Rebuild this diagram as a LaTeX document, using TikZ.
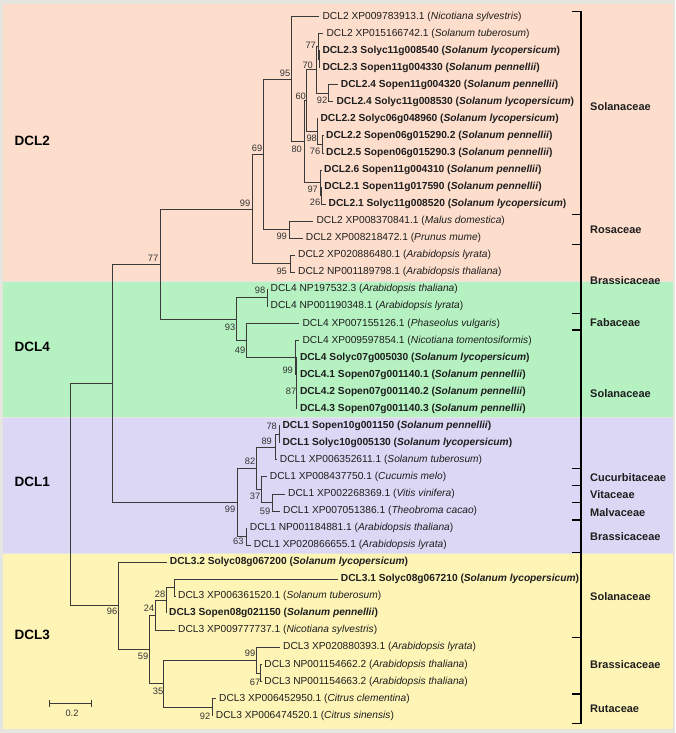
\documentclass[tikz,border=0pt]{standalone}
\usepackage{fontspec}
\setmainfont{Liberation Sans}
\definecolor{bgpeach}{HTML}{FDDDCC}
\definecolor{bggreen}{HTML}{B5F1C1}
\definecolor{bglav}{HTML}{DBD7F5}
\definecolor{bgyel}{HTML}{FEF4B6}
\definecolor{frame}{HTML}{E6E6E0}
\definecolor{treegray}{HTML}{3A3A3A}
\definecolor{txt}{HTML}{1E1E1E}
\definecolor{bsgray}{HTML}{333333}
\tikzset{
  leaf/.style={anchor=west, inner xsep=3pt, inner ysep=1pt, text=txt, font=\fontsize{10.2}{12}\selectfont},
  leafb/.style={leaf, font=\fontsize{10.2}{12}\selectfont\bfseries},
  bs/.style={inner sep=0pt, text=bsgray, font=\fontsize{9.3}{10}\selectfont},
  br/.style={draw=treegray, line width=0.8pt},
  fam/.style={anchor=west, inner sep=0pt, text=txt, font=\fontsize{11}{13}\selectfont\bfseries},
  clade/.style={anchor=west, inner sep=0pt, text=black, font=\fontsize{13.5}{15}\selectfont\bfseries},
  band/.style={draw=frame, line width=0.6pt}
}
\begin{document}
\begin{tikzpicture}[x=1pt,y=-1pt]
\useasboundingbox (0,0) rectangle (675,733);
% background
\fill[frame] (0,0) rectangle (675,733);
\filldraw[band, fill=bgpeach] (2,3) rectangle (673,281);
\filldraw[band, fill=bggreen] (2,281) rectangle (673,417.5);
\filldraw[band, fill=bglav] (2,417.5) rectangle (673,553);
\filldraw[band, fill=bgyel] (2,553) rectangle (673,729);

% clade labels
\node[clade] (cDCL2) at (14.5,140.7) {DCL2};
\node[clade] (cDCL4) at (14.5,346.7) {DCL4};
\node[clade] (cDCL1) at (14.5,481.7) {DCL1};
\node[clade] (cDCL3) at (14.5,635) {DCL3};

% leaves
\node[leaf]  (L1)  at (319.4,16.5)   {DCL2 XP009783913.1 (\textit{Nicotiana sylvestris})};
\node[leaf]  (L2)  at (323.4,33.55)  {DCL2 XP015166742.1 (\textit{Solanum tuberosum})};
\node[leafb] (L3)  at (319.3,50.6)   {DCL2.3 Solyc11g008540 (\textit{Solanum lycopersicum})};
\node[leafb] (L4)  at (319.3,67.65)  {DCL2.3 Sopen11g004330 (\textit{Solanum pennellii})};
\node[leafb] (L5)  at (337.7,84.7)   {DCL2.4 Sopen11g004320 (\textit{Solanum pennellii})};
\node[leafb] (L6)  at (333.4,101.75) {DCL2.4 Solyc11g008530 (\textit{Solanum lycopersicum})};
\node[leafb] (L7)  at (317.4,118.8)  {DCL2.2 Solyc06g048960 (\textit{Solanum lycopersicum})};
\node[leafb] (L8)  at (323,135.85)   {DCL2.2 Sopen06g015290.2 (\textit{Solanum pennellii})};
\node[leafb] (L9)  at (323,152.9)    {DCL2.5 Sopen06g015290.3 (\textit{Solanum pennellii})};
\node[leafb] (L10) at (321,169.95)   {DCL2.6 Sopen11g004310 (\textit{Solanum pennellii})};
\node[leafb] (L11) at (321.2,187)    {DCL2.1 Sopen11g017590 (\textit{Solanum pennellii})};
\node[leafb] (L12) at (325.5,204.05) {DCL2.1 Solyc11g008520 (\textit{Solanum lycopersicum})};
\node[leaf]  (L13) at (313.4,221.1)  {DCL2 XP008370841.1 (\textit{Malus domestica})};
\node[leaf]  (L14) at (302.7,238.15) {DCL2 XP008218472.1 (\textit{Prunus mume})};
\node[leaf]  (L15) at (295,255.2)    {DCL2 XP020886480.1 (\textit{Arabidopsis lyrata})};
\node[leaf]  (L16) at (295,272.25)   {DCL2 NP001189798.1 (\textit{Arabidopsis thaliana})};
\node[leaf]  (L17) at (267.5,289.3)  {DCL4 NP197532.3 (\textit{Arabidopsis thaliana})};
\node[leaf]  (L18) at (267.5,306.35) {DCL4 NP001190348.1 (\textit{Arabidopsis lyrata})};
\node[leaf]  (L19) at (299.4,323.4)  {DCL4 XP007155126.1 (\textit{Phaseolus vulgaris})};
\node[leaf]  (L20) at (299.4,340.45) {DCL4 XP009597854.1 (\textit{Nicotiana tomentosiformis})};
\node[leafb] (L21) at (296.8,357.5)  {DCL4 Solyc07g005030 (\textit{Solanum lycopersicum})};
\node[leafb] (L22) at (296.8,374.55) {DCL4.1 Sopen07g001140.1 (\textit{Solanum pennellii})};
\node[leafb] (L23) at (296.8,391.6)  {DCL4.2 Sopen07g001140.2 (\textit{Solanum pennellii})};
\node[leafb] (L24) at (296.8,408.65) {DCL4.3 Sopen07g001140.3 (\textit{Solanum pennellii})};
\node[leafb] (L25) at (279.4,425.7)  {DCL1 Sopen10g001150 (\textit{Solanum pennellii})};
\node[leafb] (L26) at (279.4,442.75) {DCL1 Solyc10g005130 (\textit{Solanum lycopersicum})};
\node[leaf]  (L27) at (276.7,459.8)  {DCL1 XP006352611.1 (\textit{Solanum tuberosum})};
\node[leaf]  (L28) at (266.7,476.85) {DCL1 XP008437750.1 (\textit{Cucumis melo})};
\node[leaf]  (L29) at (285,493.9)    {DCL1 XP002268369.1 (\textit{Vitis vinifera})};
\node[leaf]  (L30) at (280,510.95)   {DCL1 XP007051386.1 (\textit{Theobroma cacao})};
\node[leaf]  (L31) at (246.7,528)    {DCL1 NP001184881.1 (\textit{Arabidopsis thaliana})};
\node[leaf]  (L32) at (250.7,545.05) {DCL1 XP020866655.1 (\textit{Arabidopsis lyrata})};
\node[leafb] (L33) at (166.7,562.1)  {DCL3.2 Solyc08g067200 (\textit{Solanum lycopersicum})};
\node[leafb] (L34) at (337.7,579.15) {DCL3.1 Solyc08g067210 (\textit{Solanum lycopersicum})};
\node[leaf]  (L35) at (175,596.2)    {DCL3 XP006361520.1 (\textit{Solanum tuberosum})};
\node[leafb] (L36) at (166,613.25)   {DCL3 Sopen08g021150 (\textit{Solanum pennellii})};
\node[leaf]  (L37) at (175,630.3)    {DCL3 XP009777737.1 (\textit{Nicotiana sylvestris})};
\node[leaf]  (L38) at (280,647.35)   {DCL3 XP020880393.1 (\textit{Arabidopsis lyrata})};
\node[leaf]  (L39) at (261.2,664.4)  {DCL3 NP001154662.2 (\textit{Arabidopsis thaliana})};
\node[leaf]  (L40) at (261.2,681.45) {DCL3 NP001154663.2 (\textit{Arabidopsis thaliana})};
\node[leaf]  (L41) at (216,698.5)    {DCL3 XP006452950.1 (\textit{Citrus clementina})};
\node[leaf]  (L42) at (212.7,715.55) {DCL3 XP006474520.1 (\textit{Citrus sinensis})};

% internal nodes
\coordinate (n34)   at (319,59.1);
\coordinate (n77)   at (318.3,46.3);
\coordinate (n92)   at (328.3,93.2);
\coordinate (n70)   at (316,69.8);
\coordinate (n76)   at (322.7,144.4);
\coordinate (n98a)  at (317,131.6);
\coordinate (n60)   at (306,100.7);
\coordinate (n26)   at (321.2,195.5);
\coordinate (n97)   at (320.5,182.7);
\coordinate (n80)   at (304,141.7);
\coordinate (n95a)  at (291,79.1);
\coordinate (n99r)  at (289,229.6);
\coordinate (n69)   at (263.3,154.4);
\coordinate (n95b)  at (290,263.7);
\coordinate (n99a)  at (252,209.1);
\coordinate (n98b)  at (267.3,297.8);
\coordinate (n87)   at (296.8,391.6);
\coordinate (nB)    at (296.2,374.6);
\coordinate (nA)    at (295.5,357.5);
\coordinate (n49)   at (246.7,340.5);
\coordinate (n93)   at (236.7,319.2);
\coordinate (n77b)  at (160,264.2);
\coordinate (n78)   at (279.3,434.2);
\coordinate (n89)   at (275,447);
\coordinate (n59a)  at (272.7,502.4);
\coordinate (n37)   at (261.7,489.6);
\coordinate (n82)   at (256.5,468.3);
\coordinate (n63)   at (246,536.5);
\coordinate (n99d)  at (237.3,502.4);
\coordinate (nX)    at (112,383.3);
\coordinate (nC)    at (174.7,587.7);
\coordinate (n28)   at (166,600.5);
\coordinate (n24)   at (155,615.4);
\coordinate (n67)   at (260.7,672.9);
\coordinate (n99c)  at (256.7,660.1);
\coordinate (n92b)  at (212,707);
\coordinate (n35)   at (163.6,683.6);
\coordinate (n59b)  at (149.3,649.5);
\coordinate (n96)   at (118.5,605.8);
\coordinate (root)  at (70,494.6);

% branches
\draw[br] (n95a) |- (L1.west);  \draw[br] (n95a) |- (n80);
\draw[br] (n80) |- (n60);       \draw[br] (n80) |- (n97);
\draw[br] (n60) |- (n70);       \draw[br] (n60) |- (n98a);
\draw[br] (n70) |- (n77);       \draw[br] (n70) |- (n92);
\draw[br] (n77) |- (L2.west);   \draw[br] (n77) |- (n34);
\draw[br] (n34) |- (L3.west);   \draw[br] (n34) |- (L4.west);
\draw[br] (n92) |- (L5.west);   \draw[br] (n92) |- (L6.west);
\draw[br] (n98a) |- (L7.west);  \draw[br] (n98a) |- (n76);
\draw[br] (n76) |- (L8.west);   \draw[br] (n76) |- (L9.west);
\draw[br] (n97) |- (L10.west);  \draw[br] (n97) |- (n26);
\draw[br] (n26) |- (L11.west);  \draw[br] (n26) |- (L12.west);
\draw[br] (n69) |- (n95a);      \draw[br] (n69) |- (n99r);
\draw[br] (n99r) |- (L13.west); \draw[br] (n99r) |- (L14.west);
\draw[br] (n99a) |- (n69);      \draw[br] (n99a) |- (n95b);
\draw[br] (n95b) |- (L15.west); \draw[br] (n95b) |- (L16.west);
\draw[br] (n77b) |- (n99a);     \draw[br] (n77b) |- (n93);
\draw[br] (n93) |- (n98b);      \draw[br] (n93) |- (n49);
\draw[br] (n98b) |- (L17.west); \draw[br] (n98b) |- (L18.west);
\draw[br] (n49) |- (L19.west);  \draw[br] (n49) |- (nA);
\draw[br] (nA) |- (L20.west);   \draw[br] (nA) |- (nB);
\draw[br] (nB) |- (L21.west);   \draw[br] (nB) |- (n87);
\draw[br] (n87) |- (L22.west);  \draw[br] (n87) |- (L23.west); \draw[br] (n87) |- (L24.west);
\draw[br] (nX) |- (n77b);       \draw[br] (nX) |- (n99d);
\draw[br] (n99d) |- (n82);      \draw[br] (n99d) |- (n63);
\draw[br] (n82) |- (n89);       \draw[br] (n82) |- (n37);
\draw[br] (n89) |- (n78);       \draw[br] (n89) |- (L27.west);
\draw[br] (n78) |- (L25.west);  \draw[br] (n78) |- (L26.west);
\draw[br] (n37) |- (L28.west);  \draw[br] (n37) |- (n59a);
\draw[br] (n59a) |- (L29.west); \draw[br] (n59a) |- (L30.west);
\draw[br] (n63) |- (L31.west);  \draw[br] (n63) |- (L32.west);
\draw[br] (root) |- (nX);       \draw[br] (root) |- (n96);
\draw[br] (n96) |- (L33.west);  \draw[br] (n96) |- (n59b);
\draw[br] (n59b) |- (n24);      \draw[br] (n59b) |- (n35);
\draw[br] (n24) |- (n28);       \draw[br] (n24) |- (L37.west);
\draw[br] (n28) |- (nC);        \draw[br] (n28) |- (L36.west);
\draw[br] (nC) |- (L34.west);   \draw[br] (nC) |- (L35.west);
\draw[br] (n35) |- (n99c);      \draw[br] (n35) |- (n92b);
\draw[br] (n99c) |- (L38.west); \draw[br] (n99c) |- (n67);
\draw[br] (n67) |- (L39.west);  \draw[br] (n67) |- (L40.west);
\draw[br] (n92b) |- (L41.west); \draw[br] (n92b) |- (L42.west);

% bootstrap values
\node[bs] (b1)  at (285,73.3)    {95};
\node[bs] (b2)  at (310.7,45)    {77};
\node[bs] (b3)  at (307.7,65.7)  {70};
\node[bs] (b4)  at (300.7,96.7)  {60};
\node[bs] (b5)  at (322,100)     {92};
\node[bs] (b6)  at (311.7,138.3) {98};
\node[bs] (b7)  at (315,151.7)   {76};
\node[bs] (b8)  at (296.7,149)   {80};
\node[bs] (b9)  at (312.7,189.3) {97};
\node[bs] (b10) at (315,202.7)   {26};
\node[bs] (b11) at (257,148)     {69};
\node[bs] (b12) at (245,203)     {99};
\node[bs] (b13) at (153,258)     {77};
\node[bs] (b14) at (281.7,236.7) {99};
\node[bs] (b15) at (281.7,271.7) {95};
\node[bs] (b16) at (260,290)     {98};
\node[bs] (b17) at (230,327.3)   {93};
\node[bs] (b18) at (240,350)     {49};
\node[bs] (b19) at (287.7,370)   {99};
\node[bs] (b20) at (291,391.7)   {87};
\node[bs] (b21) at (271.7,426.7) {78};
\node[bs] (b22) at (266.7,441.7) {89};
\node[bs] (b23) at (250,461.7)   {82};
\node[bs] (b24) at (255,496.7)   {37};
\node[bs] (b25) at (265,511)     {59};
\node[bs] (b26) at (230,509.3)   {99};
\node[bs] (b27) at (238.3,541.7) {63};
\node[bs] (b28) at (112,611)     {96};
\node[bs] (b29) at (160,594)     {28};
\node[bs] (b30) at (149,608.5)   {24};
\node[bs] (b31) at (143,656.5)   {59};
\node[bs] (b32) at (158,691)     {35};
\node[bs] (b33) at (250,653.5)   {99};
\node[bs] (b34) at (255,682)     {67};
\node[bs] (b35) at (205,716)     {92};

% scale bar
\coordinate (sbA) at (49.5,703);
\coordinate (sbB) at (91,703);
\draw[br] (sbA) -- (sbB);
\draw[br] ([yshift=-3.5pt]sbA) -- ([yshift=3.5pt]sbA);
\draw[br] ([yshift=-3.5pt]sbB) -- ([yshift=3.5pt]sbB);
\node[bs] (sbl) at (72,713.5) {0.2};

% family bracket
\draw[black, line width=1.3pt] (581,11.7) -- (581,723.3);
\foreach \t in {11.7,214.3,244.3,313.3,330,468.3,485.7,502.3,520,552.7,637.7,694,723.3}
  \draw[black, line width=1.3pt] (571.7,\t) -- (581.6,\t);

% family labels
\node[fam] (f1)  at (590,106.7) {Solanaceae};
\node[fam] (f2)  at (590,229.3) {Rosaceae};
\node[fam] (f3)  at (590,281)   {Brassicaceae};
\node[fam] (f4)  at (590,322.7) {Fabaceae};
\node[fam] (f5)  at (590,393.3) {Solanaceae};
\node[fam] (f6)  at (590,477.7) {Cucurbitaceae};
\node[fam] (f7)  at (590,495)   {Vitaceae};
\node[fam] (f8)  at (590,512.7) {Malvaceae};
\node[fam] (f9)  at (590,536.7) {Brassicaceae};
\node[fam] (f10) at (590,596.7) {Solanaceae};
\node[fam] (f11) at (590,665)   {Brassicaceae};
\node[fam] (f12) at (590,708.3) {Rutaceae};
\end{tikzpicture}
\end{document}
